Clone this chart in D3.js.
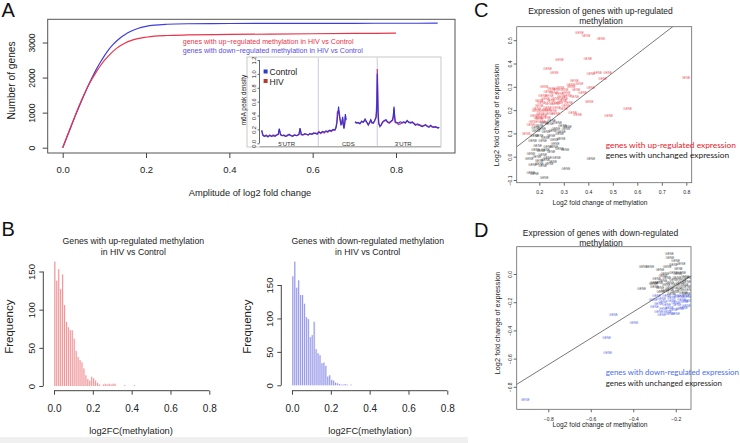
<!DOCTYPE html>
<html><head><meta charset="utf-8">
<script src="https://cdn.jsdelivr.net/npm/d3@7"></script>
<style>
body{margin:0;background:#fff}
svg{display:block}
text{font-family:"Liberation Sans",Arial,Helvetica,sans-serif}
</style>
</head><body>
<svg id="c" width="740" height="443"></svg>
<script>
// ---------------- DATA ----------------
// Panel A: cumulative number of genes vs amplitude of log2 fold change
const ampUp   = [0,0.01,0.02,0.03,0.04,0.05,0.06,0.07,0.08,0.09,0.10,0.11,0.12,0.13,0.14,0.15,0.16,0.18,0.20,0.22,0.25,0.30,0.40,0.50,0.60,0.70,0.80];
const upCount = [0,310,620,920,1210,1480,1730,1950,2150,2330,2490,2620,2740,2840,2920,2985,3040,3110,3150,3180,3200,3215,3230,3240,3250,3258,3265];
const ampDown   = [0,0.01,0.02,0.03,0.04,0.05,0.06,0.07,0.08,0.09,0.10,0.11,0.12,0.13,0.14,0.15,0.16,0.18,0.20,0.22,0.25,0.30,0.40,0.50,0.60,0.70,0.80,0.90];
const downCount = [0,300,600,900,1190,1470,1740,1990,2220,2430,2620,2790,2930,3050,3150,3230,3300,3400,3460,3495,3520,3535,3542,3545,3547,3548,3549,3550];
const aXTicks = [0,0.2,0.4,0.6,0.8];
const aYTicks = [0,1000,2000,3000];
const aLegend = ["genes with up\u2212regulated methylation in HIV vs Control","genes with down\u2212regulated methylation in HIV vs Control"];

// Inset: m6A peak density along transcript (relative position 0-100)
const insetPos = [0,0.7,1.5,2.5,3.5,4.5,5.5,6.5,7.5,8.5,
  9.3,9.9,10.6,11.5,12.5,13.5,14.5,15.5,16.5,17.5,
  18.5,19.5,20.5,21.0,21.6,22.3,23.2,24.2,25.2,26.2,
  27.2,28.2,29.2,30.2,31.2,32.2,33.2,34.2,35.2,36.2,
  37.2,38.2,39.2,40.2,41.2,41.8,42.3,42.6,43.3,43.7,
  44.1,44.6,45.0,45.6,46.0,46.3,46.8,47.1,47.5,
  50,
  52.5,53.4,54.4,55.3,56.3,57.2,58.2,59.1,60.0,60.7,
  61.4,62.1,62.9,63.6,64.4,64.8,65.1,65.5,65.9,66.6,
  67.3,68.1,69.0,70.0,70.9,71.9,72.8,73.7,74.1,74.5,
  74.9,75.2,76.2,77.1,78.0,79.0,80.0,80.9,81.9,82.8,
  83.8,84.7,85.7,86.6,87.6,88.5,89.5,90.4,91.4,92.3,
  93.2,94.2,95.1,96.1,97.0,98.0,99.0,100];
const controlDensity = [.19,.12,.10,.11,.09,.12,.10,.11,.10,.12,
  .13,.21,.13,.11,.12,.10,.11,.13,.11,.10,
  .12,.11,.12,.13,.22,.13,.12,.14,.13,.12,
  .14,.13,.15,.14,.13,.16,.15,.17,.16,.18,
  .17,.19,.18,.20,.19,.22,.28,.36,.53,.40,
  .34,.27,.29,.38,.27,.21,.30,.42,.34,
  null,
  .31,.29,.30,.28,.32,.30,.35,.31,.26,.30,
  .34,.30,.29,.33,.38,.50,1.00,.45,.29,.24,
  .27,.31,.33,.34,.31,.30,.32,.34,.40,.53,
  .38,.31,.30,.29,.31,.30,.31,.29,.33,.30,
  .29,.31,.28,.26,.28,.27,.25,.24,.26,.27,
  .24,.23,.26,.24,.23,.24,.22,.23];
const hivDensity = [.18,.11,.10,.12,.10,.11,.10,.12,.11,.12,
  .13,.20,.12,.11,.11,.10,.12,.12,.11,.11,
  .12,.11,.12,.13,.21,.12,.12,.13,.13,.12,
  .14,.13,.14,.15,.14,.17,.14,.16,.15,.17,
  .16,.18,.17,.19,.19,.23,.31,.45,.47,.44,
  .36,.28,.27,.35,.26,.22,.29,.40,.33,
  null,
  .30,.30,.29,.29,.31,.31,.33,.30,.27,.29,
  .33,.29,.30,.32,.37,.60,1.07,.50,.28,.25,
  .26,.30,.32,.33,.30,.29,.31,.33,.38,.50,
  .36,.30,.29,.27,.28,.29,.30,.30,.32,.31,
  .30,.30,.29,.27,.27,.26,.26,.25,.25,.26,
  .25,.24,.25,.23,.24,.23,.23,.22];
const insetYTicks = [0,0.2,0.4,0.6,0.8,1.0,1.2];
const insetRegions = ["5'UTR","CDS","3'UTR"];
const insetRegionCenter = [14,48.8,79.7];
const insetBoundaries = [31.9,65.1];
const insetLegend = ["Control","HIV"];

// Panel B: histograms (bin width 0.01 starting at 0)
const binWidth = 0.01;
const upHist   = [163,138,153,127,146,106,84,77,73,73,62,46,38,34,31,23,14,9,7,12,10,7,4,2,0,2,3,2,3,2,3,3,0,0,0,0,1,0,0,0,0,1];
const downHist = [163,185,146,157,135,135,122,102,99,72,75,95,54,48,45,33,34,29,13,15,8,7,4,3,2,1,1,2,1,0,1];
const bXTicks = [0,0.2,0.4,0.6,0.8];
const bYTicks = [0,50,100,150];
const bTitleUp = ["Genes with up-regulated methylation","in HIV vs Control"];
const bTitleDown = ["Genes with down-regulated methylation","in HIV vs Control"];

// Panel C: up-regulated methylation, expression change
const cUpExpr = [[0.364,0.532],[0.391,0.518],[0.452,0.506],[0.282,0.414],[0.398,0.418],[0.234,0.375],[0.261,0.36],[0.411,0.354],[0.438,0.36],[0.479,0.36],
  [0.459,0.335],[0.343,0.325],[0.329,0.308],[0.363,0.311],[0.22,0.299],[0.411,0.296],[0.268,0.286],[0.302,0.286],[0.377,0.275],[0.214,0.26],
  [0.241,0.26],[0.282,0.268],[0.316,0.26],[0.2,0.239],[0.248,0.239],[0.295,0.239],[0.268,0.225],[0.404,0.235],[0.2,0.218],[0.234,0.21],
  [0.309,0.218],[0.187,0.196],[0.22,0.196],[0.255,0.196],[0.336,0.186],[0.357,0.178],[0.18,0.175],[0.214,0.175],[0.268,0.182],[0.2,0.161],
  [0.483,0.175],[0.561,0.206],[0.166,0.136],[0.146,0.096],[0.799,0.339],[0.25,0.29],[0.285,0.295],[0.31,0.275],[0.235,0.28],[0.26,0.272],
  [0.29,0.255],[0.225,0.25],[0.265,0.248],[0.3,0.25],[0.21,0.23],[0.24,0.225],[0.28,0.23],[0.32,0.232],[0.19,0.205],[0.23,0.2],
  [0.27,0.21],[0.3,0.205],[0.205,0.185],[0.24,0.185],[0.195,0.168],[0.23,0.165],[0.175,0.15],[0.21,0.15],[0.33,0.3],[0.35,0.285],[0.345,0.255]];
const cUnchanged = [[0.22,0.146],[0.2,0.132],[0.241,0.139],[0.295,0.132],[0.268,0.12],[0.309,0.118],[0.187,0.11],[0.227,0.106],[0.2,0.089],[0.248,0.089],
  [0.282,0.096],[0.173,0.067],[0.214,0.067],[0.261,0.072],[0.289,0.075],[0.193,0.046],[0.234,0.043],[0.282,0.034],[0.207,0.024],[0.248,0.02],
  [0.166,0.01],[0.214,0.006],[0.159,-0.011],[0.234,-0.004],[0.2,-0.018],[0.255,-0.023],[0.411,-0.011],[0.309,-0.051],[0.173,-0.037],[0.214,-0.04],
  [0.166,-0.069],[0.18,-0.076],[0.22,-0.09],[0.25,0.155],[0.275,0.145],[0.315,0.128],[0.185,0.125],[0.21,0.12],[0.255,0.11],[0.29,0.108],
  [0.18,0.09],[0.225,0.08],[0.265,0.055],[0.185,0.03],[0.225,0.03],[0.26,0.04],[0.19,0.0],[0.225,-0.015],[0.27,-0.005],[0.2,-0.03],[0.24,-0.03],[0.305,0.03]];
const cFit = [-0.045, 0.81];   // intercept, slope
const cXTicks = [0.2,0.3,0.4,0.5,0.6,0.7,0.8];
const cYTicks = [-0.1,0,0.1,0.2,0.3,0.4,0.5];
const cTitle = ["Expression of genes with up-regulated","methylation"];
const cLegend = ["genes with up-regulated expression","genes with unchanged expression"];

// Panel D: down-regulated methylation, expression change
const dDownExpr = [[-0.290,-0.156],[-0.243,-0.156],[-0.195,-0.156],[-0.156,-0.156],[-0.306,-0.184],[-0.266,-0.180],[-0.219,-0.191],[-0.172,-0.184],[-0.141,-0.191],[-0.282,-0.215],
  [-0.243,-0.222],[-0.195,-0.222],[-0.259,-0.250],[-0.211,-0.255],[-0.164,-0.239],[-0.227,-0.286],[-0.266,-0.293],[-0.493,-0.29],[-0.397,-0.35],[-0.525,-0.45],
  [-0.52,-0.56],[-0.909,-0.89],[-0.22,-0.17],[-0.18,-0.165],[-0.145,-0.165],[-0.26,-0.2],[-0.2,-0.205],[-0.16,-0.2],[-0.3,-0.235],[-0.23,-0.24],
  [-0.18,-0.25],[-0.15,-0.225],[-0.28,-0.27],[-0.24,-0.27],[-0.2,-0.28]];
const dUnchanged = [[-0.230,0.140],[-0.227,0.116],[-0.321,0.052],[-0.274,0.028],[-0.211,0.062],[-0.188,0.038],[-0.251,-0.002],[-0.211,0.005],[-0.172,0.009],[-0.290,-0.038],
  [-0.243,-0.026],[-0.195,-0.026],[-0.156,-0.019],[-0.360,-0.104],[-0.306,-0.073],[-0.227,-0.062],[-0.180,-0.062],[-0.149,-0.057],[-0.274,-0.097],[-0.227,-0.097],
  [-0.188,-0.097],[-0.149,-0.090],[-0.251,-0.121],[-0.204,-0.128],[-0.164,-0.133],[-0.353,0.052],[-0.26,-0.05],[-0.21,-0.04],[-0.17,-0.045],[-0.3,-0.09],
  [-0.245,-0.08],[-0.2,-0.08],[-0.16,-0.075],[-0.23,-0.11],[-0.18,-0.115],[-0.14,-0.11],[-0.27,-0.13],[-0.22,-0.14],[-0.15,-0.14],[-0.24,0.05],
  [-0.2,0.09],[-0.175,0.07],[-0.26,-0.015],[-0.19,0.0],[-0.14,-0.03],[-0.3,-0.06],[-0.28,-0.06]];
const dFit = [0.106, 0.937];
const dXTicks = [-0.8,-0.6,-0.4,-0.2];
const dYTicks = [-0.8,-0.6,-0.4,-0.2,0];
const dTitle = ["Expression of genes with down-regulated","methylation"];
const dLegend = ["genes with down-regulated expression","genes with unchanged expression"];
const geneLabel = "GENE";

// ---------------- DRAWING ----------------
const svg = d3.select('#c');
const FONT = '"Liberation Sans",Arial,Helvetica,sans-serif';

function txt(g, x, y, s, fs, o={}) {
  const t = g.append('text').attr('x', 0).attr('y', 0).attr('dy', '0.35em')
    .attr('font-size', fs).attr('fill', o.fill || '#222')
    .attr('text-anchor', o.anchor || 'middle').text(s);
  if (o.family) t.style('font-family', o.family);
  t.attr('transform', `translate(${x},${y})` + (o.rot ? ' rotate(-90)' : ''));
  return t;
}
function bottomAxis(g, scale, ticks, y, o) {
  const a = g.append('g').attr('transform', `translate(0,${y})`)
    .call(d3.axisBottom(scale).tickValues(ticks).tickSize(o.tick).tickFormat(o.fmt));
  a.select('.domain').remove();
  a.selectAll('line').attr('stroke', o.stroke || '#444');
  a.selectAll('text').attr('y', o.off).attr('dy', '0.35em').attr('font-size', o.fs)
    .attr('fill', '#222').style('font-family', FONT);
  if (o.line) a.append('line').attr('x1', scale(ticks[0])).attr('x2', scale(ticks[ticks.length-1]))
    .attr('stroke', o.stroke || '#444');
  return a;
}
function leftAxis(g, scale, ticks, x, o) {
  const a = g.append('g').attr('transform', `translate(${x},0)`)
    .call(d3.axisLeft(scale).tickValues(ticks).tickSize(o.tick).tickFormat(o.fmt));
  a.select('.domain').remove();
  a.selectAll('line').attr('stroke', o.stroke || '#444');
  a.selectAll('text').attr('x', null).attr('y', null).attr('dy', '0.35em')
    .attr('text-anchor', 'middle').attr('transform', `translate(${-o.off},0) rotate(-90)`)
    .attr('font-size', o.fs).attr('fill', '#222').style('font-family', FONT);
  if (o.line) a.append('line').attr('y1', scale(ticks[0])).attr('y2', scale(ticks[ticks.length-1]))
    .attr('stroke', o.stroke || '#444');
  return a;
}
const f1 = d3.format('.1f');
const minusFmt = d => f1(d).replace('-', '\u2212');

// panel letters
[['A',1.5,10],['B',1.5,229],['C',474,9.5],['D',474,229.5]].forEach(([s,x,y]) =>
  txt(svg, x, y, s, 20, {anchor:'start', fill:'#111'}));

// ===== Panel A =====
const gA = svg.append('g');
const ax = d3.scaleLinear().domain([0, 0.8]).range([62.7, 396]);
const ay = d3.scaleLinear().domain([0, 3000]).range([147.7, 42.5]);
gA.append('rect').attr('x', 47.7).attr('y', 19.3).attr('width', 407.3).attr('height', 133.7)
  .attr('fill', 'none').attr('stroke', '#555');
bottomAxis(gA, ax, aXTicks, 153, {tick:5, off:17, fs:9.5, fmt:f1});
leftAxis(gA, ay, aYTicks, 47.7, {tick:5, off:16, fs:8.6, fmt:d3.format('d')});
txt(gA, 11.7, 80.5, 'Number of genes', 10.2, {rot:true});
txt(gA, 250, 192.7, 'Amplitude of log2 fold change', 9.3);
const lineA = d3.line().x(d => ax(d[0])).y(d => ay(d[1])).curve(d3.curveMonotoneX);
gA.append('path').attr('d', lineA(ampDown.map((a,i) => [a, downCount[i]])))
  .attr('fill','none').attr('stroke','#3d3de0').attr('stroke-width',1.2);
gA.append('path').attr('d', lineA(ampUp.map((a,i) => [a, upCount[i]])))
  .attr('fill','none').attr('stroke','#e8344a').attr('stroke-width',1.2);
txt(gA, 182.7, 41.8, aLegend[0], 7.1, {anchor:'start', fill:'#e8344a'});
txt(gA, 182.7, 50.8, aLegend[1], 7.1, {anchor:'start', fill:'#5a4ee0'});

// Inset
const gI = svg.append('g');
gI.append('rect').attr('x', 247).attr('y', 57).attr('width', 194).attr('height', 90)
  .attr('fill', '#fff').attr('stroke', '#bbb').attr('stroke-width', 0.8);
const ix = d3.scaleLinear().domain([0, 100]).range([261.7, 439.3]);
const iy = d3.scaleLinear().domain([0, 1.2]).range([143.3, 60]);
insetBoundaries.forEach(b => gI.append('line').attr('x1', ix(b)).attr('x2', ix(b))
  .attr('y1', 57.5).attr('y2', 146.5).attr('stroke', '#d4d8e4').attr('stroke-width', 1.3));
gI.append('line').attr('x1', 259.5).attr('x2', 440.5).attr('y1', 146.7).attr('y2', 146.7).attr('stroke', '#888').attr('stroke-width', 0.7);
leftAxis(gI, iy, insetYTicks, 259.5, {tick:2, off:5.5, fs:5.6, fmt:f1, line:true, stroke:'#666'});
txt(gI, 243.6, 100, 'm6A peak density', 6.4, {rot:true});
const lineI = d3.line().defined(d => d[1] !== null).x(d => ix(d[0])).y(d => iy(d[1]));
gI.append('path').attr('d', lineI(insetPos.map((p,i) => [p, hivDensity[i]])))
  .attr('fill','none').attr('stroke','#d0487a').attr('stroke-width',1.3);
gI.append('path').attr('d', lineI(insetPos.map((p,i) => [p, controlDensity[i]])))
  .attr('fill','none').attr('stroke','#3030d8').attr('stroke-width',1.1);
insetRegions.forEach((r,i) => txt(gI, ix(insetRegionCenter[i]), 144.2, r, 6, {fill:'#333'}));
const legCol = ['#2a3cc8','#b83a2e'];
insetLegend.forEach((s,i) => {
  gI.append('rect').attr('x', 263.6).attr('y', 69.5 + i*9.5).attr('width', 4).attr('height', 4).attr('fill', legCol[i]);
  txt(gI, 269.5, 72 + i*9.5, s, 8.6, {anchor:'start', fill:'#222'});
});

// ===== Panel B =====
function hist(g, data, xs, ys, lineCol, fillCol) {
  g.selectAll(null).data(data).enter().append('rect')
    .attr('x', (d,i) => xs(i*binWidth)).attr('width', (d,i) => xs((i+1)*binWidth) - xs(i*binWidth))
    .attr('y', d => ys(d)).attr('height', d => ys(0) - ys(d)).attr('fill', fillCol);
  g.selectAll(null).data(data).enter().append('line')
    .attr('x1', (d,i) => xs(i*binWidth) + 0.8).attr('x2', (d,i) => xs(i*binWidth) + 0.8)
    .attr('y1', d => ys(d)).attr('y2', ys(0)).attr('stroke', lineCol).attr('stroke-width', 0.9)
    .attr('opacity', d => d > 0 ? 1 : 0);
}
svg.append('rect').attr('x', 0).attr('y', 437).attr('width', 468).attr('height', 6).attr('fill', '#f0f0f0');
const gB1 = svg.append('g');
const bx1 = d3.scaleLinear().domain([0, 0.8]).range([54, 209.3]);
const by1 = d3.scaleLinear().domain([0, 150]).range([386, 271.5]);
hist(gB1, upHist, bx1, by1, '#ee8c90', '#fbe6e7');
bottomAxis(gB1, bx1, bXTicks, 390.7, {tick:4, off:17.6, fs:10, fmt:f1, line:true});
leftAxis(gB1, by1, bYTicks, 43.3, {tick:4, off:11.6, fs:9.6, fmt:d3.format('d'), line:true});
txt(gB1, 133.3, 240.7, bTitleUp[0], 8.7);
txt(gB1, 133.3, 252.3, bTitleUp[1], 8.7);
txt(gB1, 9, 326.7, 'Frequency', 11.5, {rot:true});
txt(gB1, 131, 430.7, 'log2FC(methylation)', 9.3);

const gB2 = svg.append('g');
const bx2 = d3.scaleLinear().domain([0, 0.8]).range([292, 447.3]);
const by2 = d3.scaleLinear().domain([0, 150]).range([385.3, 285]);
hist(gB2, downHist, bx2, by2, '#8e8ee6', '#e3e3fa');
bottomAxis(gB2, bx2, bXTicks, 390.7, {tick:4, off:17.6, fs:10, fmt:f1, line:true});
leftAxis(gB2, by2, bYTicks, 281.3, {tick:4, off:11.6, fs:9.6, fmt:d3.format('d'), line:true});
txt(gB2, 367.7, 240.7, bTitleDown[0], 8.7);
txt(gB2, 367.7, 252.3, bTitleDown[1], 8.7);
txt(gB2, 247.3, 326.7, 'Frequency', 11.5, {rot:true});
txt(gB2, 370, 430.7, 'log2FC(methylation)', 9.3);

// ===== Panel C / D scatter =====
function scatterPanel(o) {
  const g = svg.append('g');
  const id = 'clip' + o.key;
  g.append('clipPath').attr('id', id).append('rect')
    .attr('x', o.box[0]).attr('y', o.box[1]).attr('width', o.box[2]-o.box[0]).attr('height', o.box[3]-o.box[1]);
  const xs = o.xs, ys = o.ys;
  const pg = g.append('g').attr('clip-path', `url(#${id})`);
  const dom = [xs.invert(o.box[0]), xs.invert(o.box[2])];
  pg.append('path').attr('d', d3.line().x(d => xs(d)).y(d => ys(o.fit[0] + o.fit[1]*d))(dom))
    .attr('stroke', '#555').attr('stroke-width', 0.8).attr('fill', 'none');
  o.sets.forEach(s => {
    pg.selectAll(null).data(s.pts).enter().append('text')
      .attr('x', d => xs(d[0])).attr('y', d => ys(d[1])).attr('dy', '0.35em')
      .attr('text-anchor', 'middle').attr('font-size', 3.1).attr('fill', s.col)
      .attr('fill-opacity', 0.85).text(geneLabel);
  });
  g.append('rect').attr('x', o.box[0]).attr('y', o.box[1]).attr('width', o.box[2]-o.box[0]).attr('height', o.box[3]-o.box[1])
    .attr('fill', 'none').attr('stroke', '#666').attr('stroke-width', 0.8);
  bottomAxis(g, xs, o.xt, o.box[3], {tick:3, off:10, fs:5, fmt:minusFmt, stroke:'#666'});
  leftAxis(g, ys, o.yt, o.box[0], {tick:3, off:6.6, fs:5, fmt:minusFmt, stroke:'#666'});
  txt(g, 600.5, o.titleY[0], o.title[0], 8.5);
  txt(g, 601, o.titleY[1], o.title[1], 8.5);
  txt(g, 600, o.xlabY, 'Log2 fold change of methylation', 6.7);
  txt(g, o.ylab[0], o.ylab[1], 'Log2 fold change of expression', 7.4, {rot:true});
  o.legend.forEach((s,i) => txt(g, 605.7, o.legY[i], s, o.legFs, {anchor:'start', fill:o.legCol[i], family:'Lato, "Open Sans", sans-serif'}));
}
scatterPanel({key:'C', box:[516.7,26.7,691.7,182.7],
  xs:d3.scaleLinear().domain([0.2,0.8]).range([539.3,686.3]),
  ys:d3.scaleLinear().domain([0,0.5]).range([156.7,40.2]),
  fit:cFit, xt:cXTicks, yt:cYTicks,
  sets:[{pts:cUnchanged, col:'#222'},{pts:cUpExpr, col:'#e8262e'}],
  title:cTitle, titleY:[10.7,21], xlabY:202.7, ylab:[496.7,115],
  legend:cLegend, legY:[145,155.2], legCol:['#e8202a','#1a1a1a'], legFs:8.4});
scatterPanel({key:'D', box:[516.7,246.7,691,409.3],
  xs:d3.scaleLinear().domain([-0.8,-0.2]).range([548.25,675.75]),
  ys:d3.scaleLinear().domain([0,-0.8]).range([274,386.8]),
  fit:dFit, xt:dXTicks, yt:dYTicks,
  sets:[{pts:dUnchanged, col:'#222'},{pts:dDownExpr, col:'#2f3fe0'}],
  title:dTitle, titleY:[233.3,243.3], xlabY:424.5, ylab:[497.3,323],
  legend:dLegend, legY:[372.7,383.3], legCol:['#4a6ee6','#1a1a1a'], legFs:7.9});
</script>
</body></html>
